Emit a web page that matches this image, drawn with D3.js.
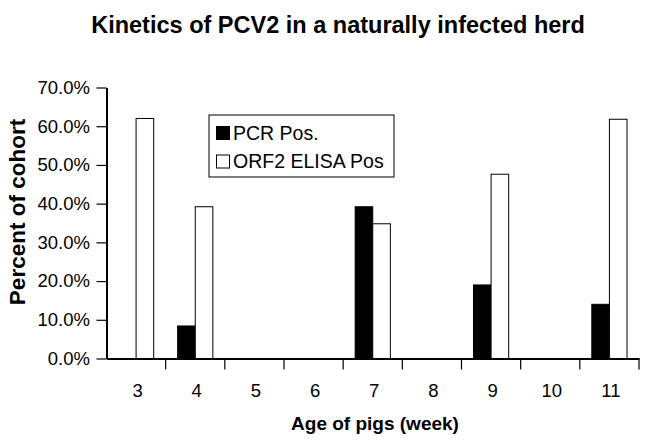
<!DOCTYPE html>
<html>
<head>
<meta charset="utf-8">
<script src="https://cdn.jsdelivr.net/npm/d3@7"></script>
<style>
  html, body { margin: 0; padding: 0; background: #fff; }
  svg { display: block; font-family: "Liberation Sans", Arial, Helvetica, sans-serif; }
</style>
</head>
<body>
<svg id="chart" width="654" height="445"></svg>
<script>
const weeks = ["3", "4", "5", "6", "7", "8", "9", "10", "11"];
const pcrPos = [0, 8.4, 0, 0, 39.2, 0, 19.0, 0, 14.0];
const elisaPos = [62.0, 39.2, 0, 0, 34.8, 0, 47.6, 0, 61.8];
const seriesKeys = ["PCR Pos.", "ORF2 ELISA Pos"];
const yTicks = [0, 10, 20, 30, 40, 50, 60, 70];

const seriesValues = [pcrPos, elisaPos];
const seriesFill = ["#000", "#fff"];

const svg = d3.select("#chart");

const x0 = d3.scaleBand().domain(weeks).range([106.5, 639]).padding(0);
const x1 = d3.scaleBand().domain(seriesKeys).range([0, x0.bandwidth()])
  .paddingInner(0).paddingOuter(0.68);
const y = d3.scaleLinear().domain([0, 70]).range([358.5, 87.5]);

// Title
svg.append("text")
  .attr("x", 338).attr("y", 33)
  .attr("text-anchor", "middle")
  .attr("font-weight", "bold")
  .attr("font-size", "23.5px")
  .text("Kinetics of PCV2 in a naturally infected herd");

// Bars
const groups = svg.append("g").selectAll("g")
  .data(weeks).join("g")
  .attr("transform", d => `translate(${x0(d)},0)`);

groups.selectAll("rect")
  .data((w, i) => seriesKeys.map((k, s) => ({ key: k, s, v: seriesValues[s][i] })))
  .join("rect")
  .filter(d => d.v > 0)
  .attr("x", d => x1(d.key))
  .attr("y", d => y(d.v))
  .attr("width", x1.bandwidth())
  .attr("height", d => y(0) - y(d.v))
  .attr("fill", d => seriesFill[d.s])
  .attr("stroke", "#000")
  .attr("stroke-width", 1);

// Y axis
const yAxis = svg.append("g")
  .attr("transform", `translate(${x0.range()[0]},0)`)
  .call(d3.axisLeft(y).tickValues(yTicks).tickSize(10).tickSizeOuter(0)
    .tickPadding(6.5).tickFormat(d => d.toFixed(1) + "%"));
yAxis.select(".domain").attr("stroke", "#000").attr("stroke-width", 2);
yAxis.selectAll(".tick line").attr("stroke", "#000").attr("stroke-width", 1.2);
yAxis.selectAll(".tick text")
  .attr("font-size", "18.5px").attr("fill", "#000")
  .style("font-family", "\"Liberation Sans\", Arial, sans-serif");

// X axis (labels at centers)
const xAxis = svg.append("g")
  .attr("transform", `translate(0,${y(0)})`)
  .call(d3.axisBottom(x0).tickSize(0).tickSizeOuter(0).tickPadding(25));
xAxis.select(".domain").attr("stroke", "#000").attr("stroke-width", 2);
xAxis.selectAll(".tick text")
  .attr("font-size", "18.5px").attr("fill", "#000")
  .attr("dx", "1.5")
  .style("font-family", "\"Liberation Sans\", Arial, sans-serif");

// X boundary ticks
xAxis.append("g").selectAll("line")
  .data(weeks).join("line")
  .attr("x1", d => x0(d) + x0.step())
  .attr("x2", d => x0(d) + x0.step())
  .attr("y1", 0).attr("y2", 11)
  .attr("stroke", "#000").attr("stroke-width", 1.2);

// Axis titles
svg.append("text")
  .attr("x", 375).attr("y", 430)
  .attr("text-anchor", "middle")
  .attr("font-weight", "bold")
  .attr("font-size", "19px")
  .text("Age of pigs (week)");

svg.append("text")
  .attr("transform", "translate(25,212) rotate(-90)")
  .attr("text-anchor", "middle")
  .attr("font-weight", "bold")
  .attr("font-size", "22.5px")
  .text("Percent of cohort");

// Legend
const legend = svg.append("g");
legend.append("rect")
  .attr("x", 209).attr("y", 115).attr("width", 185).attr("height", 62)
  .attr("fill", "#fff").attr("stroke", "#000").attr("stroke-width", 1);
const items = legend.selectAll("g.item")
  .data(seriesKeys).join("g")
  .attr("class", "item")
  .attr("transform", (d, i) => `translate(216,${126 + i * 28.5})`);
items.append("rect")
  .attr("x", 0.5).attr("y", 0.5).attr("width", 13).attr("height", 13)
  .attr("fill", (d, i) => seriesFill[i]).attr("stroke", "#000").attr("stroke-width", 1);
items.append("text")
  .attr("x", 17).attr("y", 13.5)
  .attr("font-size", "19.5px")
  .text(d => d);
</script>
</body>
</html>
